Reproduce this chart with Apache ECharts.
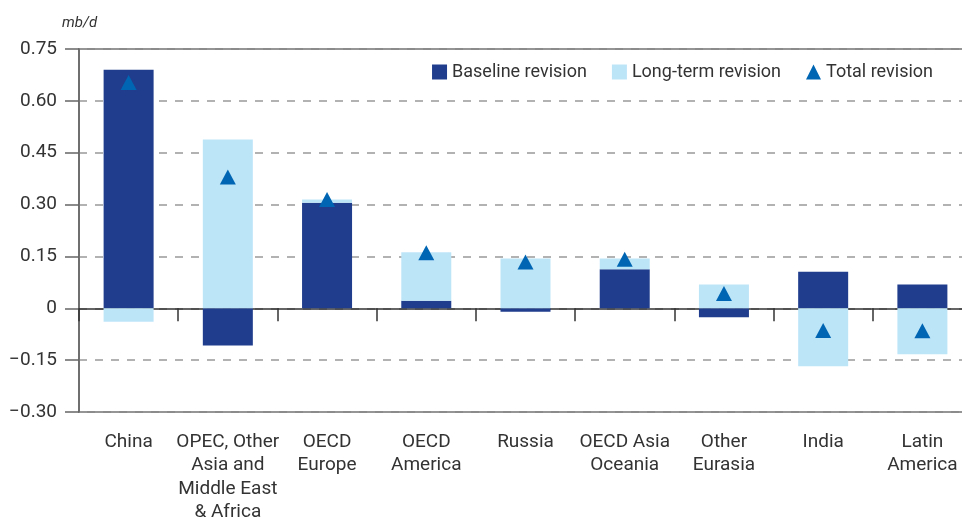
<!DOCTYPE html>
<html>
<head>
<meta charset="utf-8">
<script src="https://cdn.jsdelivr.net/npm/echarts@6/dist/echarts.min.js"></script>
<style>
  html, body { margin: 0; padding: 0; background: #fff; }
  #chart { width: 962px; height: 521px; }
</style>
</head>
<body>
<div id="chart"></div>
<script>
// Regions along the horizontal axis
const regions = [
  'China',
  'OPEC, Other\nAsia and\nMiddle East\n& Africa',
  'OECD\nEurope',
  'OECD\nAmerica',
  'Russia',
  'OECD Asia\nOceania',
  'Other\nEurasia',
  'India',
  'Latin\nAmerica'
];

// Revisions in mb/d
const baselineRevision = [0.69, -0.108, 0.305, 0.022, -0.01, 0.113, -0.026, 0.106, 0.069];
const longTermRevision = [-0.039, 0.488, 0.01, 0.14, 0.144, 0.031, 0.069, -0.168, -0.133];
const totalRevision = [0.653, 0.38, 0.315, 0.161, 0.134, 0.142, 0.043, -0.064, -0.065];

// Value axis range
const yMin = -0.30, yMax = 0.75, yStep = 0.15;

const FONT = 'Roboto, "DejaVu Sans", sans-serif';
const TEXT = '#333';
const AXIS = '#666';

const chart = echarts.init(document.getElementById('chart'), null, { renderer: 'canvas' });

function fmtTick(v) {
  const r = Math.round(v * 100) / 100;
  if (Math.abs(r) < 1e-9) return '0';
  return (r < 0 ? '\u2212' : '') + Math.abs(r).toFixed(2);
}

chart.setOption({
  animation: false,
  textStyle: { fontFamily: FONT },
  graphic: [{
    type: 'text',
    left: 62, top: 16,
    style: { text: 'mb/d', font: 'italic 15px ' + FONT, fill: TEXT }
  }],
  legend: {
    right: 29, top: 63,
    padding: 0,
    itemWidth: 15, itemHeight: 15,
    itemGap: 25,
    textStyle: { fontSize: 18, color: TEXT, fontFamily: FONT },
    data: [
      { name: 'Baseline revision', icon: 'rect' },
      { name: 'Long-term revision', icon: 'rect' },
      { name: 'Total revision', icon: 'triangle' }
    ]
  },
  grid: {
    left: 79, top: 49, right: -10, bottom: 109,
    outerBoundsMode: 'none',
    containLabel: false,
    show: true, borderColor: AXIS, borderWidth: 1.5, backgroundColor: 'transparent'
  },
  xAxis: [{
    type: 'category',
    data: regions,
    position: 'bottom',
    axisLine: { show: false, onZero: false },
    axisTick: { show: false },
    axisLabel: {
      interval: 0, fontSize: 19, color: TEXT, lineHeight: 23.5, margin: 18,
      fontFamily: FONT, align: 'center'
    }
  }, {
    type: 'category',
    data: regions,
    position: 'top',
    axisLine: { show: true, onZero: true, lineStyle: { color: '#333', width: 1.5 } },
    axisTick: { show: true, inside: true, length: 13, lineStyle: { color: '#333', width: 1.5 } },
    axisLabel: { show: false },
    splitLine: { show: false }
  }],
  yAxis: {
    type: 'value',
    min: yMin, max: yMax, interval: yStep,
    axisLine: { show: true, lineStyle: { color: AXIS, width: 1.5 } },
    axisTick: { show: true, length: 14, lineStyle: { color: AXIS, width: 1.5 } },
    axisLabel: { fontSize: 19, color: TEXT, margin: 22, formatter: fmtTick, fontFamily: FONT },
    splitLine: { show: true, lineStyle: { color: '#999', width: 1.5, type: [8, 8] } }
  },
  series: [{
    name: 'Baseline revision',
    type: 'bar',
    stack: 'rev',
    barWidth: 50,
    itemStyle: { color: '#1f3d8c' },
    data: baselineRevision
  }, {
    name: 'Long-term revision',
    type: 'bar',
    stack: 'rev',
    barWidth: 50,
    itemStyle: { color: '#bde5f8' },
    data: longTermRevision
  }, {
    name: 'Total revision',
    type: 'scatter',
    symbol: 'triangle',
    symbolSize: [16, 15],
    itemStyle: { color: '#0066b3', opacity: 1 },
    z: 5,
    data: totalRevision
  }]
});
</script>
</body>
</html>
